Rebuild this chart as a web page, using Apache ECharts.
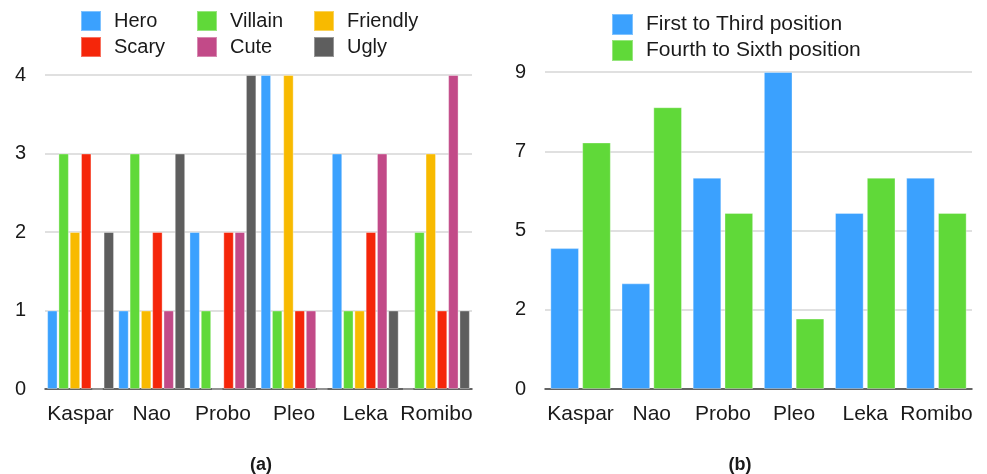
<!DOCTYPE html>
<html>
<head>
<meta charset="utf-8">
<title>Robot ratings</title>
<script src="https://cdn.jsdelivr.net/npm/echarts@6/dist/echarts.min.js"></script>
<style>
    html, body { margin: 0; padding: 0; background: #fff; }
    #chart { width: 987px; height: 474px; }
</style>
</head>
<body>
<div id="chart"></div>
<script>
const robots = [ 'Kaspar', 'Nao', 'Probo', 'Pleo', 'Leka', 'Romibo' ];

// (a) number of times each robot was picked for a role
const traitNames = [ 'Hero', 'Villain', 'Friendly', 'Scary', 'Cute', 'Ugly' ];
const hero     = [ 1, 1, 2, 4, 3, 0 ];
const villain  = [ 3, 3, 1, 1, 1, 2 ];
const friendly = [ 2, 1, 0, 4, 1, 3 ];
const scary    = [ 3, 2, 2, 1, 2, 1 ];
const cute     = [ 0, 1, 2, 1, 3, 4 ];
const ugly     = [ 2, 3, 4, 0, 1, 1 ];
const ticksA   = [ 0, 1, 2, 3, 4 ];

// (b) ranking positions
const rankNames     = [ 'First to Third position', 'Fourth to Sixth position' ];
const firstToThird  = [ 4, 3, 6, 9, 5, 6 ];
const fourthToSixth = [ 7, 8, 5, 2, 6, 5 ];
const ticksB        = [ 0, 2, 5, 7, 9 ];

const traitData = [ hero, villain, friendly, scary, cute, ugly ];
const rankData = [ firstToThird, fourthToSixth ];

const FONT = '"Liberation Sans", Arial, sans-serif';
const TEXT = '#1a1a1a';
const traitColors = [ '#3ba1fe', '#60d939', '#f8ba00', '#f5260a', '#c24a88', '#5e5e5e' ];
const rankColors = [ '#3ba1fe', '#60d939' ];

// legend slots, [left, top]
const traitLegendPos = [ [ 80, 10 ], [ 196, 10 ], [ 313, 10 ], [ 80, 36 ], [ 196, 36 ], [ 313, 36 ] ];
const rankLegendPos = [ [ 611, 13 ], [ 611, 39 ] ];

function legendAt( name, pos, size, fontSize ) {
    return {
        data: [ name ],
        left: pos[0],
        top: pos[1],
        padding: 0,
        icon: 'rect',
        itemWidth: size,
        itemHeight: size,
        selectedMode: false,
        textStyle: { fontFamily: FONT, fontSize: fontSize, color: TEXT, padding: [ 0, 0, 0, 8 ] }
    };
}

function xAxis( gridIndex ) {
    return {
        type: 'category',
        gridIndex: gridIndex,
        data: robots,
        axisLine: { lineStyle: { color: '#3a3a3a', width: 1.5 } },
        axisTick: { show: false },
        axisLabel: { interval: 0, fontFamily: FONT, fontSize: 21, color: TEXT, margin: 15 }
    };
}

function yAxis( gridIndex, max, interval, ticks ) {
    return {
        type: 'value',
        gridIndex: gridIndex,
        min: 0,
        max: max,
        interval: interval,
        axisLine: { show: false },
        axisTick: { show: false },
        splitLine: { lineStyle: { color: '#d6d6d6', width: 1.5 } },
        axisLabel: {
            fontFamily: FONT, fontSize: 20, color: TEXT, margin: 19,
            formatter: ( v, i ) => String( ticks[i] )
        }
    };
}

const series = [];
traitNames.forEach( ( name, i ) => {
    series.push( {
        name: name,
        type: 'bar',
        xAxisIndex: 0,
        yAxisIndex: 0,
        data: traitData[i],
        barGap: '8%',
        barCategoryGap: '6%',
        itemStyle: { color: traitColors[i], borderColor: 'rgba(255,255,255,0.35)', borderWidth: 1 }
    } );
} );
rankNames.forEach( ( name, i ) => {
    series.push( {
        name: name,
        type: 'bar',
        xAxisIndex: 1,
        yAxisIndex: 1,
        data: rankData[i],
        barGap: '11%',
        barCategoryGap: '15%',
        itemStyle: { color: rankColors[i], borderColor: 'rgba(255,255,255,0.35)', borderWidth: 1 }
    } );
} );

const option = {
    animation: false,
    backgroundColor: '#fff',
    title: [
        { text: '(a)', left: 256, top: 451, textAlign: 'center',
          textStyle: { fontFamily: FONT, fontSize: 18, fontWeight: 'bold', color: TEXT } },
        { text: '(b)', left: 735, top: 451, textAlign: 'center',
          textStyle: { fontFamily: FONT, fontSize: 18, fontWeight: 'bold', color: TEXT } }
    ],
    legend: traitNames.map( ( n, i ) => legendAt( n, traitLegendPos[i], 20, 20 ) )
        .concat( rankNames.map( ( n, i ) => legendAt( n, rankLegendPos[i], 21, 21 ) ) ),
    grid: [
        { left: 45, right: 515, top: 75, bottom: 85 },
        { left: 545, right: 15, top: 72, bottom: 85 }
    ],
    xAxis: [ xAxis( 0 ), xAxis( 1 ) ],
    yAxis: [ yAxis( 0, 4, 1, ticksA ), yAxis( 1, 9, 2.25, ticksB ) ],
    series: series
};

document.addEventListener( 'DOMContentLoaded', function () {
    const chart = echarts.init( document.getElementById( 'chart' ) );
    chart.setOption( option );
} );
</script>
</body>
</html>
